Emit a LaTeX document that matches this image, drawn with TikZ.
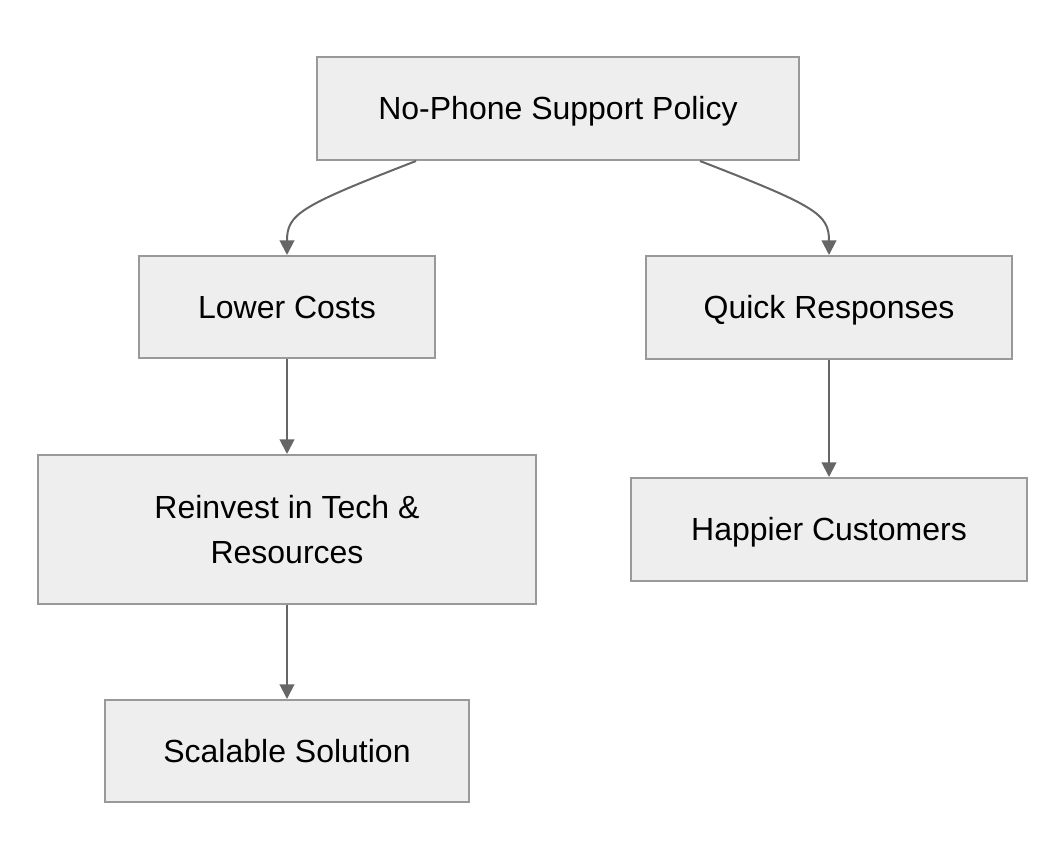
\documentclass[tikz,border=0pt]{standalone}
\usepackage{fontspec}
\setmainfont{Liberation Sans}
\usetikzlibrary{arrows.meta,calc}

\definecolor{boxfill}{HTML}{EEEEEE}
\definecolor{boxline}{HTML}{999999}
\definecolor{arrowgray}{HTML}{666666}

\tikzset{
    box/.style={draw=boxline, fill=boxfill, line width=1.5pt, inner sep=0pt,
        align=center, font=\fontsize{24}{34}\selectfont},
    oneline/.style={text height=17.2pt, text depth=0pt},
    arr/.style={draw=arrowgray, line width=1.5pt, -{Triangle[length=11pt,width=11pt]}}
}

\begin{document}
\begin{tikzpicture}[x=0.75pt,y=-0.75pt]
    \useasboundingbox (0,0) rectangle (1064,860);
    % boxes
    \node[box, oneline, minimum width=361.5pt, minimum height=77.25pt] (policy) at (558,108.5) {No-Phone Support Policy};
    \node[box, oneline, minimum width=222pt, minimum height=76.5pt] (costs) at (287,307) {Lower Costs};
    \node[box, oneline, minimum width=274.5pt, minimum height=77.25pt] (quick) at (829,307.5) {Quick Responses};
    \node[box, minimum width=373.5pt, minimum height=111.75pt] (reinvest) at (287,529.5) {Reinvest in Tech \&\\Resources};
    \node[box, oneline, minimum width=297pt, minimum height=77.25pt] (happy) at (829,529.5) {Happier Customers};
    \node[box, oneline, minimum width=273pt, minimum height=76.5pt] (scale) at (287,751) {Scalable Solution};
    % arrows
    \draw[arr] ($(policy.south)+(-142,0)$) .. controls +(-116,45) and +(0,-41) .. (costs.north);
    \draw[arr] ($(policy.south)+(142,0)$) .. controls +(116,45) and +(0,-41) .. (quick.north);
    \draw[arr] (costs) -- (reinvest);
    \draw[arr] (reinvest) -- (scale);
    \draw[arr] (quick) -- (happy);
\end{tikzpicture}
\end{document}
